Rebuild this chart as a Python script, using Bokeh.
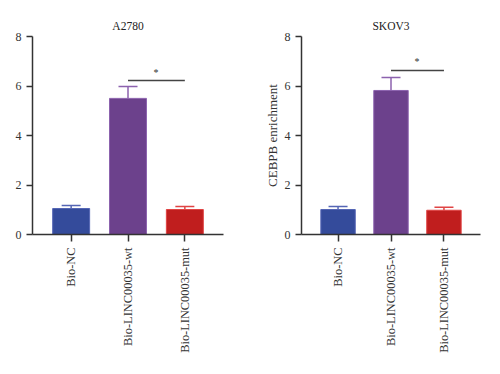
from bokeh.plotting import figure
from bokeh.layouts import row
from bokeh.models import FactorRange, Range1d, ColumnDataSource, Whisker, FixedTicker, TeeHead
from bokeh.core.properties import value, field
from bokeh.embed import file_html
from bokeh.resources import INLINE
import math

categories = ["Bio-NC", "Bio-LINC00035-wt", "Bio-LINC00035-mut"]
colors = ["#344B9B", "#6C418C", "#C01E1E"]
outline = ["#5566B5", "#8C62AE", "#E04444"]

a2780_mean = [1.05, 5.50, 1.01]
a2780_err = [0.12, 0.48, 0.12]
skov3_mean = [1.01, 5.82, 0.98]
skov3_err = [0.12, 0.52, 0.12]

a2780_sig = (categories[1], categories[2], 6.22)
skov3_sig = (categories[1], categories[2], 6.63)

FONT = "Liberation Serif"


def make(title, means, errs, sig, width, left, right, pad, star_dx, ylabel=None):
    src = ColumnDataSource(dict(
        x=categories, top=means,
        upper=[m + e for m, e in zip(means, errs)],
        lower=means, color=colors, line=outline,
    ))
    p = figure(x_range=FactorRange(*categories, range_padding=pad,
                                   range_padding_units="absolute"),
               y_range=Range1d(0, 8),
               width=width, height=364, output_backend="svg",
               toolbar_location=None, title=title,
               min_border_left=left, min_border_right=right,
               min_border_top=36, min_border_bottom=130)
    p.vbar(x="x", top="top", width=0.65, source=src, fill_color="color",
           line_color="line", line_width=1)
    w = Whisker(base="x", upper="upper", lower="lower", source=src,
                line_color=field("line"), line_width=1.5,
                upper_head=TeeHead(size=19, line_color=field("line"), line_width=1.5),
                lower_head=None)
    p.add_layout(w)
    a, b, yv = sig
    p.line(x=[a, b], y=[yv, yv], line_color="#444444", line_width=1.5)
    p.text(x=[a], y=[yv + 0.12], text=["*"], x_offset=star_dx,
           text_align="center", text_baseline="bottom",
           text_font=value(FONT), text_font_size="10px", text_color="#333333")
    p.title.align = "center"
    p.title.text_font = FONT
    p.title.text_font_style = "normal"
    p.title.text_font_size = "11.5px"
    p.title.text_color = "#222222"
    p.xgrid.visible = False
    p.ygrid.visible = False
    p.outline_line_color = None
    for ax in (p.xaxis[0], p.yaxis[0]):
        ax.axis_line_color = "#333333"
        ax.axis_line_width = 1.5
        ax.major_tick_line_color = "#333333"
        ax.major_tick_line_width = 1.5
        ax.minor_tick_line_color = None
        ax.major_tick_in = 0
        ax.major_label_text_font = FONT
        ax.major_label_text_color = "#333333"
    p.yaxis.major_label_text_font_size = "12px"
    p.xaxis.major_label_text_font_size = "12.4px"
    p.yaxis.ticker = FixedTicker(ticks=[0, 2, 4, 6, 8])
    p.yaxis.major_tick_out = 6
    p.xaxis.major_tick_out = 7
    p.xaxis.major_label_orientation = math.pi / 2
    p.xaxis.major_label_standoff = 6
    if ylabel:
        p.yaxis.axis_label = ylabel
        p.yaxis.axis_label_text_font = FONT
        p.yaxis.axis_label_text_font_style = "normal"
        p.yaxis.axis_label_text_font_size = "13px"
        p.yaxis.axis_label_text_color = "#333333"
        p.yaxis.axis_label_standoff = 2
    return p


p1 = make("A2780", a2780_mean, a2780_err, a2780_sig, 250, 32, 27, 0.18, 28)
p2 = make("SKOV3", skov3_mean, skov3_err, skov3_sig, 240, 51, 10, 0.19, 26,
          ylabel="CEBPB enrichment")
p = row(p1, p2)
open("out.html", "w").write(file_html(p, INLINE))
